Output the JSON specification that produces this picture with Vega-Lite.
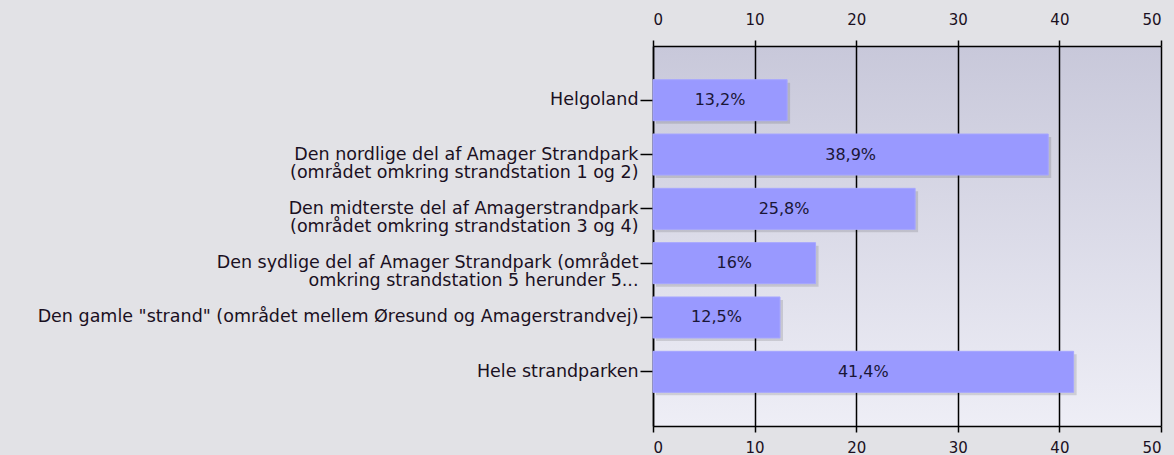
{
  "$schema": "https://vega.github.io/schema/vega-lite/v6.json",
  "autosize": {"type": "none"},
  "width": 508,
  "height": 380,
  "padding": {"left": 653, "top": 46, "right": 13, "bottom": 29},
  "background": "#e2e2e6",
  "config": {
    "view": {
      "stroke": null,
      "fill": {
        "gradient": "linear",
        "x1": 0, "y1": 0, "x2": 0, "y2": 1,
        "stops": [
          {"offset": 0, "color": "#c8c8da"},
          {"offset": 1, "color": "#eeeef6"}
        ]
      }
    },
    "axis": {
      "labelFont": "DejaVu Sans",
      "labelColor": "#1a1022",
      "domainColor": "#000000",
      "tickColor": "#000000",
      "gridColor": "#000000",
      "gridOpacity": 1
    }
  },
  "resolve": {"scale": {"x": "independent"}, "axis": {"x": "independent"}},
  "data": {
    "values": [
      {"omraade": "Helgoland", "pct": 13.2, "tekst": "13,2%"},
      {"omraade": "Den nordlige del af Amager Strandpark|(området omkring strandstation 1 og 2)", "pct": 38.9, "tekst": "38,9%"},
      {"omraade": "Den midterste del af Amagerstrandpark|(området omkring strandstation 3 og 4)", "pct": 25.8, "tekst": "25,8%"},
      {"omraade": "Den sydlige del af Amager Strandpark (området|omkring strandstation 5 herunder 5...", "pct": 16, "tekst": "16%"},
      {"omraade": "Den gamle \"strand\" (området mellem Øresund og Amagerstrandvej)", "pct": 12.5, "tekst": "12,5%"},
      {"omraade": "Hele strandparken", "pct": 41.4, "tekst": "41,4%"}
    ]
  },
  "encoding": {
    "y": {
      "field": "omraade",
      "type": "nominal",
      "sort": null,
      "scale": {"paddingInner": 0.245, "paddingOuter": 0.62},
      "axis": {
        "title": null,
        "labelExpr": "split(datum.value, '|')",
        "labelFontSize": 17.5,
        "labelLineHeight": 18,
        "labelLimit": 700,
        "tickSize": 13,
        "tickWidth": 1.5,
        "domainWidth": 1.5,
        "labelPadding": 2,
        "grid": false
      }
    }
  },
  "layer": [
    {
      "mark": {"type": "bar", "color": "#000000", "opacity": 0.12, "xOffset": 3, "yOffset": 3},
      "encoding": {
        "x": {
          "field": "pct",
          "type": "quantitative",
          "scale": {"domain": [0, 50], "nice": false},
          "axis": {
            "orient": "top",
            "title": null,
            "values": [0, 10, 20, 30, 40, 50],
            "labelFontSize": 15,
            "labelPadding": 13,
            "tickSize": 6,
            "tickWidth": 1.5,
            "domainWidth": 1.5,
            "gridWidth": 1.5,
            "grid": true
          }
        }
      }
    },
    {
      "mark": {"type": "bar", "color": "#9999ff", "stroke": "#a6a6ff", "strokeWidth": 1},
      "encoding": {
        "x": {
          "field": "pct",
          "type": "quantitative",
          "scale": {"domain": [0, 50], "nice": false},
          "axis": {
            "orient": "bottom",
            "title": null,
            "values": [0, 10, 20, 30, 40, 50],
            "labelFontSize": 15,
            "labelPadding": 8,
            "tickSize": 6,
            "tickWidth": 1.5,
            "domainWidth": 1.5,
            "grid": false
          }
        }
      }
    },
    {
      "mark": {"type": "text", "font": "DejaVu Sans", "fontSize": 16, "color": "#1a1636"},
      "encoding": {
        "x": {
          "field": "pct",
          "type": "quantitative",
          "scale": {"domain": [0, 100], "nice": false},
          "axis": null
        },
        "text": {"field": "tekst"}
      }
    }
  ]
}
